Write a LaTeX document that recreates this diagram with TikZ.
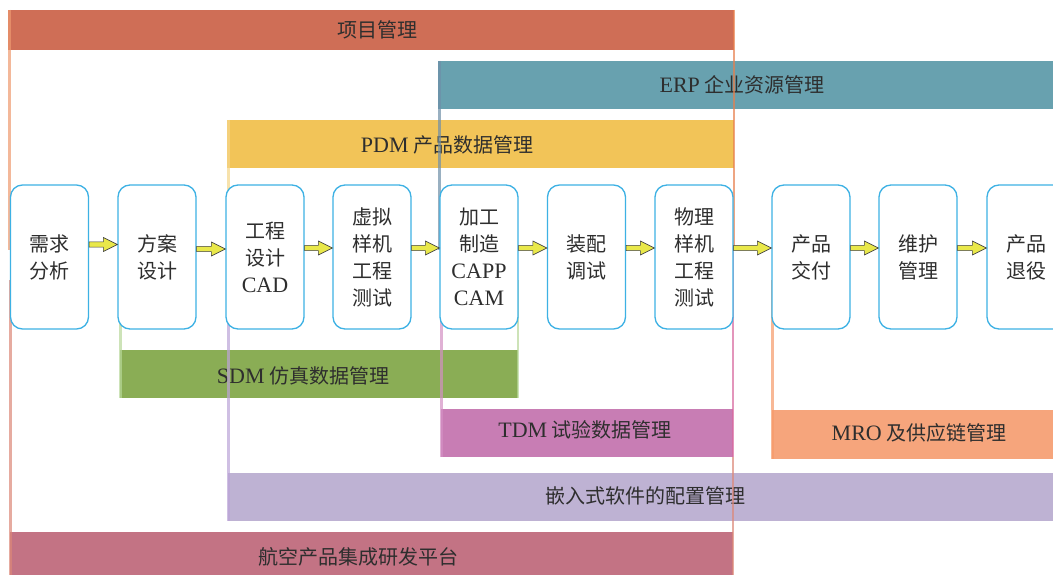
\documentclass[tikz,border=0pt]{standalone}
\usepackage{fontspec}
\setmainfont{Noto Sans CJK SC}
\newfontfamily\latn{Liberation Serif}
\usetikzlibrary{calc}
\newcommand\LT[1]{{\latn\fontsize{22}{27}\selectfont #1}}
\definecolor{pmcol}{HTML}{CF6E56}
\definecolor{erpcol}{HTML}{68A1AF}
\definecolor{pdmcol}{HTML}{F2C458}
\definecolor{sdmcol}{HTML}{8AAD55}
\definecolor{tdmcol}{HTML}{C87DB4}
\definecolor{mrocol}{HTML}{F6A57C}
\definecolor{embcol}{HTML}{BEB2D3}
\definecolor{platcol}{HTML}{C37384}
\definecolor{pmline}{HTML}{EE9A70}
\definecolor{pmrline}{HTML}{E8804E}
\definecolor{erpline}{HTML}{6F8FA8}
\definecolor{pdmline}{HTML}{F5D68A}
\definecolor{sdmline}{HTML}{B8D89A}
\definecolor{tdmline}{HTML}{D490C4}
\definecolor{tdmrline}{HTML}{D8689F}
\definecolor{embline}{HTML}{BCA4D8}
\definecolor{mroline}{HTML}{F69A6A}
\definecolor{platline}{HTML}{DC8878}
\definecolor{boxblue}{HTML}{3DB1E4}
\definecolor{arryel}{HTML}{E9E84A}
\definecolor{txt}{HTML}{2E2E2E}
\newcommand\flowarr[3]{%
  \path let \p1=(#1.east), \p2=(#2.west) in
    [draw=black!75, fill=arryel, line width=0.6pt, line join=miter]
    (\x1,{\y1+#3pt+2.6pt}) -- ({\x2-14pt},{\y1+#3pt+2.6pt}) -- ({\x2-14pt},{\y1+#3pt+7pt})
    -- (\x2,{\y1+#3pt}) -- ({\x2-14pt},{\y1+#3pt-7pt}) -- ({\x2-14pt},{\y1+#3pt-2.6pt})
    -- (\x1,{\y1+#3pt-2.6pt}) -- cycle;}
\begin{document}
\begin{tikzpicture}[x=1pt,y=-1pt,
  font=\fontsize{20}{27}\selectfont,
  bar/.style={rectangle, draw=none, inner sep=0pt, anchor=north west},
  bartext/.style={text=txt, inner sep=0pt},
  vline/.style={line width=2.4pt, draw opacity=0.7},
  stage/.style={draw=boxblue, line width=1.3pt, fill=white, rounded corners=12pt,
    minimum width=78pt, minimum height=144pt, align=center, inner sep=0pt, text=txt}]
\useasboundingbox (0,0) rectangle (1053,575);
\clip (0,0) rectangle (1053,575);
\fill[white] (0,0) rectangle (1053,575);
% bars
\node[bar, fill=pmcol, minimum width=726pt, minimum height=40pt] (pm) at (8,10) {};
\node[bar, fill=erpcol, minimum width=620pt, minimum height=48pt] (erp) at (438,61) {};
\node[bar, fill=pdmcol, minimum width=507pt, minimum height=48pt] (pdm) at (227,120) {};
\node[bar, fill=sdmcol, minimum width=398pt, minimum height=48pt] (sdm) at (120,350) {};
\node[bar, fill=tdmcol, minimum width=292pt, minimum height=48pt] (tdm) at (441,409) {};
\node[bar, fill=mrocol, minimum width=286pt, minimum height=49pt] (mro) at (772,410) {};
\node[bar, fill=embcol, minimum width=830pt, minimum height=48pt] (emb) at (228,473) {};
\node[bar, fill=platcol, minimum width=723pt, minimum height=45pt] (plat) at (10,532) {};
% bar texts
\node[bartext] (pmt) at (377,30) {项目管理};
\node[bartext] (erpt) at (742,85) {\LT{ERP} 企业资源管理};
\node[bartext] (pdmt) at (447,145) {\LT{PDM} 产品数据管理};
\node[bartext] (sdmt) at (303,376) {\LT{SDM} 仿真数据管理};
\node[bartext] (tdmt) at (585,430) {\LT{TDM} 试验数据管理};
\node[bartext] (mrot) at (919,433) {\LT{MRO} 及供应链管理};
\node[bartext] (embt) at (645,496) {嵌入式软件的配置管理};
\node[bartext] (platt) at (358,557) {航空产品集成研发平台};
% vertical guide lines
\draw[vline, pmline] (9.5,10) -- (9.5,250);
\draw[vline, pmrline] (734,10) -- (734,250);
\draw[vline, erpline] (439.5,61) -- (439.5,250);
\draw[vline, pdmline] (228.5,120) -- (228.5,250);
\draw[vline, sdmline] (120.5,280) -- (120.5,398);
\draw[vline, sdmline] (518,280) -- (518,398);
\draw[vline, tdmline] (441.5,280) -- (441.5,457);
\draw[vline, tdmrline] (733,250) -- (733,457);
\draw[vline, embline] (228.5,280) -- (228.5,521);
\draw[vline, mroline] (772.5,280) -- (772.5,459);
\draw[vline, platline] (10.5,280) -- (10.5,575);
\draw[vline, platline] (733,457) -- (733,575);
% stages
\node[stage] (b1) at (49.5,257) {需求\\分析};
\node[stage] (b2) at (157,257) {方案\\设计};
\node[stage] (b3) at (265,257) {工程\\设计\\\LT{CAD}};
\node[stage] (b4) at (372,257) {虚拟\\样机\\工程\\测试};
\node[stage] (b5) at (479,257) {加工\\制造\\\LT{CAPP}\\\LT{CAM}};
\node[stage] (b6) at (586.5,257) {装配\\调试};
\node[stage] (b7) at (694,257) {物理\\样机\\工程\\测试};
\node[stage] (b8) at (811,257) {产品\\交付};
\node[stage] (b9) at (918,257) {维护\\管理};
\node[stage] (b10) at (1026,257) {产品\\退役};
% flow arrows
\flowarr{b1}{b2}{12.5}
\flowarr{b2}{b3}{8}
\flowarr{b3}{b4}{9}
\flowarr{b4}{b5}{9}
\flowarr{b5}{b6}{9}
\flowarr{b6}{b7}{9}
\flowarr{b7}{b8}{9}
\flowarr{b8}{b9}{9}
\flowarr{b9}{b10}{9}
\end{tikzpicture}
\end{document}
